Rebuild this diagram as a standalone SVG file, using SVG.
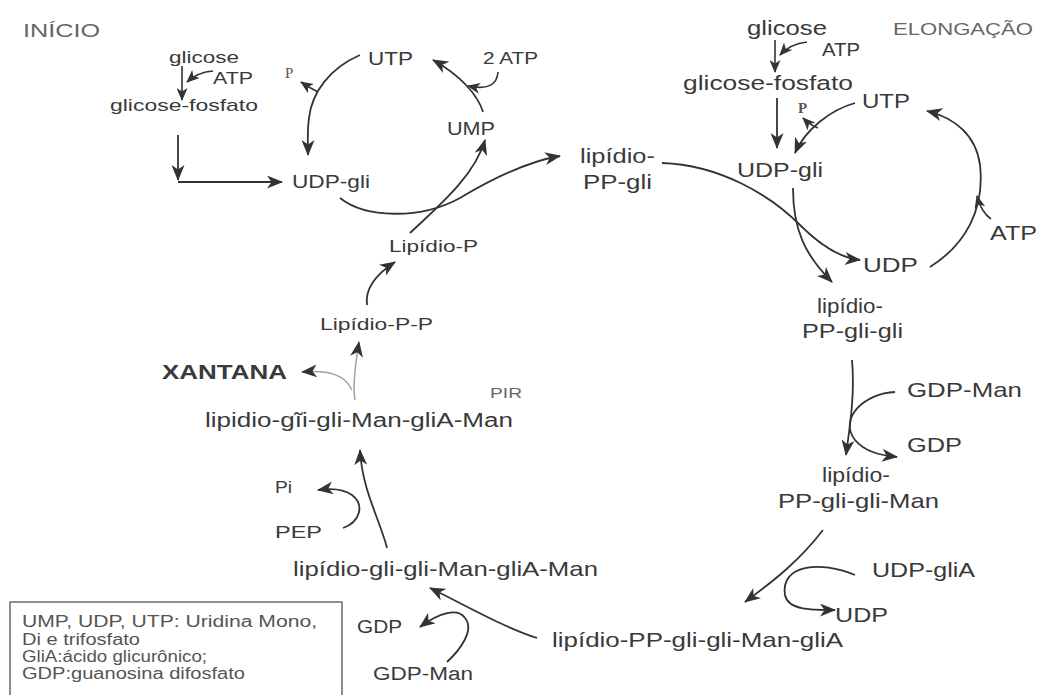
<svg xmlns="http://www.w3.org/2000/svg" width="1040" height="695" viewBox="0 0 1040 695">
<defs>
<marker id="ah" markerUnits="userSpaceOnUse" markerWidth="16" markerHeight="13" refX="15" refY="6.5" orient="auto">
<path d="M0,0 L16,6.5 L0,13 L4.5,6.5 z" fill="#333"/>
</marker>
<marker id="ahs" markerUnits="userSpaceOnUse" markerWidth="13" markerHeight="11" refX="12" refY="5.5" orient="auto">
<path d="M0,0 L13,5.5 L0,11 L3.5,5.5 z" fill="#333"/>
</marker>
<style>
text{font-family:"Liberation Sans",Arial,sans-serif;fill:#3a3a3a}
.hd{fill:#666}
.sf{font-family:"Liberation Serif","Times New Roman",serif;fill:#555}
.c{fill:none;stroke:#333;stroke-width:1.8;marker-end:url(#ah)}
.cs{fill:none;stroke:#333;stroke-width:1.6;marker-end:url(#ahs)}
.cg{fill:none;stroke:#a0a0a0;stroke-width:1.5;marker-end:url(#ah)}
.lg{fill:#555}
</style>
</defs>
<rect width="1040" height="695" fill="#fff"/>

<g id="connectors">
<path class="cs" d="M182,66 L182,100"/>
<path class="cs" d="M213,71 Q198,72 187,82"/>
<path class="c" d="M178,135 L178,180"/>
<path class="c" d="M178,182 L282,182"/>
<path class="c" d="M360,55 C330,68 312,92 309,118 C307,132 308,143 308,155"/>
<path class="cs" d="M318,92 Q310,88 301,82"/>
<path class="c" d="M483,112 C478,95 460,75 433,60"/>
<path class="cs" d="M498,72 C497,85 488,90 468,86"/>
<path class="c" d="M340,198 C365,218 420,220 460,198 C490,180 525,162 560,156"/>
<path class="c" d="M410,233 C440,205 475,175 485,140"/>
<path class="c" d="M367,305 C365,290 375,275 395,262"/>
<path class="cg" d="M355,400 C352,385 356,360 359,342"/>
<path class="cg" d="M352,390 C345,375 330,370 302,372"/>
<path class="c" d="M387,548 C380,520 362,490 360,450"/>
<path class="c" d="M343,528 C360,522 365,505 352,495 C345,490 332,488 318,490"/>
<path class="c" d="M537,638 C505,628 465,605 430,588"/>
<path class="c" d="M447,662 C460,650 475,630 465,618 C458,608 440,612 420,627"/>
<path class="cs" d="M775,40 L775,72"/>
<path class="cs" d="M807,42 Q790,44 780,55"/>
<path class="c" d="M777,98 L777,148"/>
<path class="c" d="M855,103 C830,110 805,130 795,153"/>
<path class="cs" d="M818,128 Q810,125 803,118"/>
<path class="c" d="M793,188 C793,230 805,255 832,282"/>
<path class="c" d="M662,163 C720,165 770,195 800,225 C820,245 840,258 860,260"/>
<path class="c" d="M930,267 C965,245 985,210 980,165 C976,135 955,118 927,111"/>
<path class="cs" d="M991,219 Q981,212 977,196"/>
<path class="c" d="M852,360 C855,395 850,425 846,455"/>
<path class="c" d="M895,392 C865,393 838,418 855,440 C865,452 880,455 897,457"/>
<path class="c" d="M823,530 C800,560 775,580 745,602"/>
<path class="c" d="M855,575 C820,560 780,565 785,595 C788,610 810,610 835,610"/>
</g>

<g id="n-inicio"><text class="hd" x="23" y="37" font-size="18" textLength="77" lengthAdjust="spacingAndGlyphs">INÍCIO</text></g>
<g id="n-glicose1"><text x="169" y="63" font-size="17" textLength="70" lengthAdjust="spacingAndGlyphs">glicose</text></g>
<g id="n-atp1"><text x="213" y="84" font-size="16" textLength="40" lengthAdjust="spacingAndGlyphs">ATP</text></g>
<g id="n-gf1"><text x="110" y="111" font-size="17" textLength="148" lengthAdjust="spacingAndGlyphs">glicose-fosfato</text></g>
<g id="n-p1"><text class="sf" x="285" y="78" font-size="15">P</text></g>
<g id="n-utp1"><text x="368" y="65" font-size="18" textLength="45" lengthAdjust="spacingAndGlyphs">UTP</text></g>
<g id="n-2atp"><text x="483" y="64" font-size="17" textLength="55" lengthAdjust="spacingAndGlyphs">2 ATP</text></g>
<g id="n-ump"><text x="447" y="135" font-size="18" textLength="48" lengthAdjust="spacingAndGlyphs">UMP</text></g>
<g id="n-udpgli1"><text x="292" y="188" font-size="18" textLength="78" lengthAdjust="spacingAndGlyphs">UDP-gli</text></g>
<g id="n-lppgli">
<text x="580" y="163" font-size="20" textLength="75" lengthAdjust="spacingAndGlyphs">lipídio-</text>
<text x="583" y="189" font-size="20" textLength="69" lengthAdjust="spacingAndGlyphs">PP-gli</text>
</g>
<g id="n-lipp"><text x="389" y="252" font-size="17" textLength="89" lengthAdjust="spacingAndGlyphs">Lipídio-P</text></g>
<g id="n-lippp"><text x="320" y="330" font-size="17" textLength="113" lengthAdjust="spacingAndGlyphs">Lipídio-P-P</text></g>
<g id="n-xantana"><text x="162" y="379" font-size="20" font-weight="bold" fill="#444" textLength="125" lengthAdjust="spacingAndGlyphs">XANTANA</text></g>
<g id="n-pir"><text class="hd" x="490" y="398" font-size="14" textLength="32" lengthAdjust="spacingAndGlyphs">PIR</text></g>
<g id="n-l5b"><text x="205" y="427" font-size="20" textLength="308" lengthAdjust="spacingAndGlyphs">lipidio-gĩi-gli-Man-gliA-Man</text></g>
<g id="n-pi"><text x="275" y="493" font-size="17" textLength="17" lengthAdjust="spacingAndGlyphs">Pi</text></g>
<g id="n-pep"><text x="275" y="538" font-size="17" textLength="47" lengthAdjust="spacingAndGlyphs">PEP</text></g>
<g id="n-l5"><text x="293" y="576" font-size="21" textLength="305" lengthAdjust="spacingAndGlyphs">lipídio-gli-gli-Man-gliA-Man</text></g>
<g id="n-gdp2"><text x="357" y="633" font-size="18" textLength="45" lengthAdjust="spacingAndGlyphs">GDP</text></g>
<g id="n-gdpman2"><text x="373" y="680" font-size="18" textLength="100" lengthAdjust="spacingAndGlyphs">GDP-Man</text></g>
<g id="n-l4"><text x="552" y="647" font-size="21" textLength="291" lengthAdjust="spacingAndGlyphs">lipídio-PP-gli-gli-Man-gliA</text></g>
<g id="n-udp3"><text x="835" y="622" font-size="21" textLength="53" lengthAdjust="spacingAndGlyphs">UDP</text></g>
<g id="n-udpglia"><text x="872" y="577" font-size="21" textLength="103" lengthAdjust="spacingAndGlyphs">UDP-gliA</text></g>
<g id="n-l3">
<text x="822" y="482" font-size="20" textLength="68" lengthAdjust="spacingAndGlyphs">lipídio-</text>
<text x="778" y="508" font-size="21" textLength="161" lengthAdjust="spacingAndGlyphs">PP-gli-gli-Man</text>
</g>
<g id="n-gdp1"><text x="907" y="452" font-size="21" textLength="55" lengthAdjust="spacingAndGlyphs">GDP</text></g>
<g id="n-gdpman1"><text x="907" y="397" font-size="21" textLength="115" lengthAdjust="spacingAndGlyphs">GDP-Man</text></g>
<g id="n-l2">
<text x="817" y="313" font-size="20" textLength="66" lengthAdjust="spacingAndGlyphs">lipídio-</text>
<text x="802" y="338" font-size="20" textLength="101" lengthAdjust="spacingAndGlyphs">PP-gli-gli</text>
</g>
<g id="n-udp2"><text x="863" y="272" font-size="21" textLength="55" lengthAdjust="spacingAndGlyphs">UDP</text></g>
<g id="n-atp3"><text x="990" y="240" font-size="21" textLength="47" lengthAdjust="spacingAndGlyphs">ATP</text></g>
<g id="n-utp2"><text x="862" y="108" font-size="21" textLength="48" lengthAdjust="spacingAndGlyphs">UTP</text></g>
<g id="n-p2"><text class="sf" x="798" y="113" font-size="15" font-weight="bold">P</text></g>
<g id="n-udpgli2"><text x="737" y="177" font-size="20" textLength="86" lengthAdjust="spacingAndGlyphs">UDP-gli</text></g>
<g id="n-gf2"><text x="683" y="90" font-size="20" textLength="170" lengthAdjust="spacingAndGlyphs">glicose-fosfato</text></g>
<g id="n-atp2"><text x="822" y="56" font-size="19" textLength="38" lengthAdjust="spacingAndGlyphs">ATP</text></g>
<g id="n-glicose2"><text x="747" y="35" font-size="20" textLength="80" lengthAdjust="spacingAndGlyphs">glicose</text></g>
<g id="n-elong"><text class="hd" x="893" y="35" font-size="17" textLength="140" lengthAdjust="spacingAndGlyphs">ELONGAÇÃO</text></g>

<g id="legend">
<rect x="10" y="602" width="332" height="100" fill="none" stroke="#555" stroke-width="1.3"/>
<text class="lg" x="22" y="627" font-size="16" textLength="295" lengthAdjust="spacingAndGlyphs">UMP, UDP, UTP: Uridina Mono,</text>
<text class="lg" x="22" y="645" font-size="16" textLength="118" lengthAdjust="spacingAndGlyphs">Di e trifosfato</text>
<text class="lg" x="22" y="662" font-size="16" textLength="185" lengthAdjust="spacingAndGlyphs">GliA:ácido glicurônico;</text>
<text class="lg" x="22" y="679" font-size="16" textLength="223" lengthAdjust="spacingAndGlyphs">GDP:guanosina difosfato</text>
</g>
</svg>
